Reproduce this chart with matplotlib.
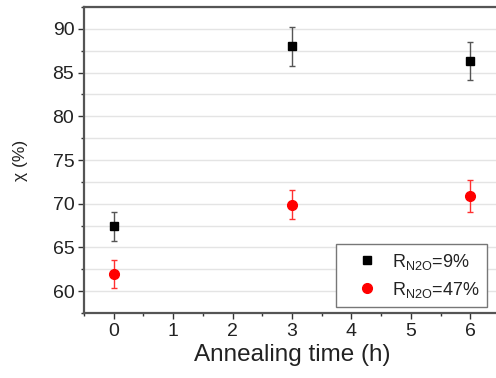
import numpy as np
import matplotlib.pyplot as plt
from matplotlib.ticker import MultipleLocator
from matplotlib.lines import Line2D

plt.rcParams['font.family'] = ['Liberation Sans', 'DejaVu Sans']
plt.rcParams['mathtext.fontset'] = 'custom'
plt.rcParams['mathtext.rm'] = 'Liberation Sans'

# data
time_h = [0, 3, 6]
chi_9 = [67.4, 88.0, 86.35]
err_9 = [1.7, 2.2, 2.2]
chi_47 = [62.0, 69.9, 70.9]
err_47 = [1.6, 1.7, 1.8]
labels = [r'R$_{\mathregular{N2O}}$=9%', r'R$_{\mathregular{N2O}}$=47%']

fig = plt.figure(figsize=(4.96, 3.78), dpi=100)
ax = fig.add_axes([84 / 496, 65 / 378, 416 / 496, 306 / 378])

ax.errorbar(time_h, chi_9, yerr=err_9, fmt='s', color='black', ms=6,
            ecolor='#555555', elinewidth=1, capsize=2.5, capthick=1, zorder=3)
ax.errorbar(time_h, chi_47, yerr=err_47, fmt='o', color='#ff0000', ms=7,
            ecolor='#ff3030', elinewidth=1, capsize=2.5, capthick=1, zorder=3)

ax.set_xlim(-0.5, 6.5)
ax.set_ylim(57.5, 92.5)
ax.xaxis.set_major_locator(MultipleLocator(1))
ax.xaxis.set_minor_locator(MultipleLocator(0.5))
ax.yaxis.set_major_locator(MultipleLocator(5))
ax.yaxis.set_minor_locator(MultipleLocator(2.5))
ax.grid(True, which='both', axis='y', color='#e4e4e4', lw=1, zorder=0)
ax.set_axisbelow(True)

ax.tick_params(which='major', direction='out', length=4, width=1,
               labelsize=14, colors='#333333', labelcolor='#222222', pad=3)
ax.tick_params(which='minor', direction='out', length=2.5, width=1,
               colors='#333333')
ax.tick_params(top=False, right=False)
for s in ax.spines.values():
    s.set_color('#555555')
    s.set_linewidth(1.6)

ax.set_xlabel('Annealing time (h)', fontsize=17.5, color='#222222', labelpad=3)
ax.set_ylabel('χ (%)', fontsize=12.5, color='#222222', labelpad=18)

handles = [Line2D([], [], ls='none', marker='s', color='black', ms=6),
           Line2D([], [], ls='none', marker='o', color='#ff0000', ms=7)]
leg = ax.legend(handles, labels, loc='lower right',
                bbox_to_anchor=(487 / 496, 71 / 378),
                bbox_transform=fig.transFigure, borderaxespad=0, fontsize=13,
                fancybox=False, edgecolor='#777777', framealpha=1,
                handlelength=2.55, handletextpad=0.15, borderpad=0.4,
                labelspacing=0.45)
leg.get_frame().set_linewidth(1)
for t in leg.get_texts():
    t.set_color('#222222')

fig.savefig('out.png', dpi=100)
